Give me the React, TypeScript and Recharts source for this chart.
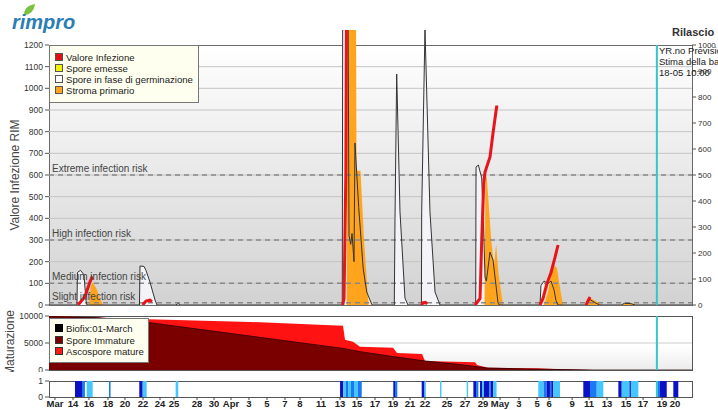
import React from "react";
import {
  ComposedChart,
  Area,
  Line,
  XAxis,
  YAxis,
  CartesianGrid,
  ReferenceLine,
  ReferenceArea,
} from "recharts";

// days counted from Mar 1 (= 0)
const X_MIN = 10.08;
const X_MAX = 82.37;
const NOW = 78.42; // 18-05 10:00

const dateTicks = [10.75, 12.78, 14.57, 16.71, 18.62, 20.65, 22.56, 24.13, 26.72, 28.63, 30.54, 32.56, 34.59, 36.61, 38.3, 40.66, 42.8, 44.71, 46.73, 48.76, 50.67, 52.35, 54.83, 56.85, 58.87, 60.79, 62.92, 64.95, 66.3, 68.89, 70.8, 72.82, 74.96, 76.87, 79.0, 80.46];
const dateLabels = ["Mar", "14", "16", "18", "20", "22", "24", "25", "28", "30", "Apr", "3", "5", "7", "8", "11", "13", "15", "17", "19", "21", "22", "25", "27", "29", "May", "3", "5", "6", "9", "11", "13", "15", "17", "19", "20"];

const leftTicks = [0, 100, 200, 300, 400, 500, 600, 700, 800, 900, 1000, 1100, 1200];
const rightTicks = [0, 100, 200, 300, 400, 500, 600, 700, 800, 900, 1000];
const gridValues = [100, 200, 300, 400, 500, 600, 700, 800, 900, 1000, 1100];

const riskLevels = [10, 100, 300, 600];
const riskLabels = ["Slight infection risk", "Medium infection risk", "High infection risk", "Extreme infection risk"];

// Spore in fase di germinazione
const germination = [
  [10.08, 0],
  [13.22, 0], [13.28, 150], [13.62, 160], [14.01, 140], [14.24, 20], [14.35, 0],
  [20.25, 0], [20.31, 180], [20.76, 178], [20.98, 160], [21.43, 106], [22.0, 23], [22.22, 0],
  [24.3, 0], [24.6, 6], [24.9, 0],
  [43.05, 0], [43.1, 1400], [43.7, 1400], [43.81, 320], [44.0, 280], [44.15, 330], [44.37, 200], [44.48, 748], [44.9, 450], [45.4, 170], [45.8, 60], [46.4, 0],
  [48.9, 0], [48.98, 400], [49.17, 1066], [49.54, 430], [50.1, 32], [50.44, 0],
  [51.95, 0], [51.98, 430], [52.35, 1275], [52.91, 430], [53.48, 60], [54.04, 0],
  [58.05, 0], [58.09, 637], [58.35, 646], [58.73, 586], [58.91, 392], [59.1, 129], [59.25, 110], [59.66, 244], [60.0, 208], [60.56, 10], [60.7, 0],
  [65.28, 0], [65.39, 90], [65.73, 110], [66.18, 100], [66.52, 110], [66.86, 70], [67.08, 20], [67.31, 0],
  [70.5, 0], [70.9, 25], [71.5, 10], [72.0, 0],
  [74.4, 0], [74.8, 8], [75.5, 6], [76.0, 0],
  [82.37, 0],
];

// Spore emesse (light fill under the germination outline)
const emitted = [
  [10.08, 0],
  [43.7, 0], [43.75, 320], [44.0, 280], [44.15, 330], [44.37, 200], [44.48, 748], [44.9, 450], [45.4, 170], [45.8, 60], [46.4, 0],
  [59.0, 0], [59.1, 129], [59.25, 110], [59.66, 244], [60.0, 208], [60.56, 10], [60.7, 0],
  [65.6, 0], [65.73, 110], [66.18, 100], [66.52, 110], [66.86, 70], [67.08, 20], [67.31, 0],
  [82.37, 0],
];

// Stroma primario
const stroma = [
  [10.08, 0],
  [14.57, 0], [14.8, 90], [15.02, 105], [15.47, 70], [15.81, 30], [16.15, 0],
  [43.55, 0], [43.58, 1400], [44.6, 1400], [44.65, 620], [45.1, 620], [45.5, 300], [46.0, 0],
  [59.05, 0], [59.15, 600], [59.3, 590], [59.8, 300], [60.1, 180], [60.35, 280], [60.6, 150], [61.12, 0],
  [65.73, 0], [66.18, 60], [66.52, 140], [66.86, 185], [67.19, 170], [67.53, 80], [67.87, 0],
  [70.57, 0], [70.91, 32], [71.48, 20], [72.26, 0],
  [74.5, 0], [74.9, 10], [75.6, 8], [76.2, 0],
  [82.37, 0],
];

// Valore infezione (null breaks the line)
const infection = [
  [13.34, 0], [14.12, 38], [14.69, 107], [14.88, 125], [15.02, 118], [15.03, null],
  [20.6, 0], [20.98, 18], [21.43, 22], [21.66, 15], [21.67, null],
  [43.1, 0], [43.25, 30], [43.45, 600], [43.53, 1400], [43.54, null],
  [52.0, 0], [52.1, 10], [52.4, 12], [52.6, 5], [52.61, null],
  [57.99, 0], [58.54, 30], [58.73, 300], [58.95, 560], [59.1, 614], [59.66, 683], [60.0, 794], [60.4, 914], [60.58, 914], [60.59, null],
  [65.28, 0], [65.62, 30], [66.07, 100], [66.52, 150], [66.97, 220], [67.31, 277], [67.32, null],
  [70.46, 0], [70.68, 20], [70.91, 37],
];

// Maturazione
const matureTop = [
  [10.08, 10000], [21.21, 9400], [32.68, 8900], [43.13, 8200], [43.36, 5600], [44.26, 5250], [45.05, 4300],
  [48.76, 4130], [49.21, 3150], [52.02, 2960], [52.35, 1670], [57.98, 1420], [58.2, 930], [59.44, 430],
  [64.95, 310], [67.53, 130], [71.24, 0], [82.37, 0],
];
const immature = [
  [10.08, 9900], [15.5, 9700], [21.21, 8800], [43.13, 4000], [45.05, 3400], [48.76, 2480], [52.35, 1670],
  [56.07, 1050], [59.32, 370], [63.82, 180], [71.24, 0], [82.37, 0],
];

// wetness strip: start, end, shade (1 light, 2 mid, 3 dark)
const wetSpells = [
  [13.0, 13.79, 3], [13.79, 14.12, 2], [14.32, 14.99, 1],
  [16.82, 17.0, 2],
  [20.23, 20.61, 3], [20.61, 21.06, 1],
  [24.32, 24.61, 1],
  [42.8, 43.17, 3], [43.17, 43.47, 1], [43.47, 43.7, 2], [43.7, 44.03, 1], [44.03, 44.37, 2], [44.37, 44.82, 1], [44.82, 45.24, 2],
  [48.79, 48.98, 3], [48.98, 49.24, 2],
  [51.98, 52.3, 3], [52.3, 52.45, 1],
  [54.04, 54.2, 1],
  [57.04, 57.2, 1],
  [57.79, 58.09, 3], [58.09, 58.35, 2], [58.54, 58.76, 3], [58.76, 58.98, 1], [58.98, 59.6, 3], [59.6, 59.75, 2], [59.75, 60.03, 3], [60.03, 60.4, 1],
  [65.09, 65.7, 1], [65.7, 66.03, 2], [66.03, 66.4, 3], [66.4, 66.55, 2], [66.55, 66.78, 3], [66.78, 67.53, 1],
  [70.15, 70.9, 3], [70.9, 71.66, 2], [71.66, 72.4, 1],
  [74.09, 74.47, 3], [74.47, 75.35, 1], [75.35, 75.5, 3], [75.5, 76.34, 1],
  [78.5, 78.77, 2], [78.77, 79.53, 3],
  [80.27, 80.83, 3],
];
const shades = ["#ffffff", "#45c6ff", "#1c78f2", "#0a12c6"];

const pts = (rows: any[]) => rows.map(([d, v]) => ({ d, v }));

const FONT = "'Liberation Sans', Arial, sans-serif";
const tickStyle = { fontSize: 8.5, fill: "#333" };
const CYAN = "#33c6cc";

const Square = ({ color, border = "#555" }: { color: string; border?: string }) => (
  <span
    style={{
      display: "inline-block",
      width: 6,
      height: 6,
      background: color,
      border: `1px solid ${border}`,
      marginRight: 3,
    }}
  />
);

const RotLabel = ({ x, y, text }: { x: number; y: number; text: string }) => (
  <div
    style={{
      position: "absolute",
      left: x,
      top: y,
      transform: "translate(-50%, -50%) rotate(-90deg)",
      whiteSpace: "nowrap",
      fontSize: 12,
      color: "#444",
    }}
  >
    {text}
  </div>
);

export default function App() {
  return (
    <div
      style={{
        position: "fixed",
        left: 0,
        top: 0,
        width: 718,
        height: 410,
        overflow: "hidden",
        background: "#fff",
        fontFamily: FONT,
      }}
    >
      {/* panel backgrounds */}
      <div
        style={{
          position: "absolute",
          left: 49,
          top: 45,
          width: 644,
          height: 261,
          boxSizing: "border-box",
          border: "1px solid #6a6a6a",
          background: "linear-gradient(#ffffff, #d2d2d2)",
        }}
      />
      <div
        style={{
          position: "absolute",
          left: 49,
          top: 316,
          width: 644,
          height: 55,
          boxSizing: "border-box",
          border: "1px solid #555",
          background: "linear-gradient(#ffffff 55%, #ececec)",
        }}
      />
      <div
        style={{
          position: "absolute",
          left: 49,
          top: 381,
          width: 644,
          height: 17,
          boxSizing: "border-box",
          border: "1px solid #555",
          background: "#fff",
        }}
      />

      {/* main chart */}
      <div style={{ position: "absolute", left: 0, top: 0 }}>
        <ComposedChart width={718} height={310} margin={{ top: 30, right: 0, bottom: 5, left: 0 }}>
          <CartesianGrid vertical={false} horizontalValues={gridValues} stroke="#c4c4c4" />
          <XAxis dataKey="d" type="number" domain={[X_MIN, X_MAX]} allowDataOverflow hide />
          <YAxis
            width={49}
            domain={[0, 1269.2]}
            allowDataOverflow
            ticks={leftTicks}
            interval={0}
            axisLine={false}
            tickSize={4}
            tickLine={{ stroke: "#555" }}
            tick={tickStyle}
          />
          <YAxis
            yAxisId="right"
            orientation="right"
            width={26}
            domain={[0, 1057.7]}
            allowDataOverflow
            ticks={rightTicks}
            interval={0}
            axisLine={false}
            tickSize={4}
            tickLine={{ stroke: "#555" }}
            tick={{ fontSize: 8, fill: "#333" }}
          />
          {riskLevels.map((lv, i) => (
            <ReferenceLine
              key={lv}
              y={lv}
              stroke="#888"
              strokeWidth={1.5}
              strokeDasharray="5 4"
              label={{ value: riskLabels[i], position: "insideBottomLeft", offset: 3, fontSize: 10, fill: "#444" }}
            />
          ))}
          <Area
            data={pts(germination)}
            dataKey="v"
            type="linear"
            fill="#f3f3f8"
            fillOpacity={1}
            stroke="none"
            isAnimationActive={false}
            dot={false}
            activeDot={false}
          />
          <Area
            data={pts(emitted)}
            dataKey="v"
            type="linear"
            fill="#fbe2c0"
            fillOpacity={1}
            stroke="none"
            isAnimationActive={false}
            dot={false}
            activeDot={false}
          />
          <Area
            data={pts(stroma)}
            dataKey="v"
            type="linear"
            fill="#ffa41c"
            fillOpacity={1}
            stroke="none"
            isAnimationActive={false}
            dot={false}
            activeDot={false}
          />
          <Line
            data={pts(germination)}
            dataKey="v"
            type="linear"
            stroke="#333"
            strokeWidth={1}
            dot={false}
            activeDot={false}
            isAnimationActive={false}
          />
          <Line
            data={pts(infection)}
            dataKey="v"
            type="linear"
            stroke="#e8141b"
            strokeWidth={3}
            dot={false}
            activeDot={false}
            connectNulls={false}
            isAnimationActive={false}
          />
          <ReferenceLine
            segment={[
              { x: NOW, y: 0 },
              { x: NOW, y: 1200 },
            ]}
            stroke={CYAN}
            strokeWidth={2}
          />
        </ComposedChart>
      </div>

      {/* maturazione */}
      <div style={{ position: "absolute", left: 0, top: 310 }}>
        <ComposedChart width={718} height={62} margin={{ top: 6, right: 26, bottom: 2, left: 0 }}>
          <CartesianGrid vertical={false} horizontalValues={[5000]} stroke="#cccccc" />
          <XAxis dataKey="d" type="number" domain={[X_MIN, X_MAX]} allowDataOverflow hide />
          <YAxis
            width={49}
            domain={[0, 10000]}
            allowDataOverflow
            ticks={[0, 5000, 10000]}
            interval={0}
            axisLine={false}
            tickSize={4}
            tickLine={{ stroke: "#555" }}
            tick={tickStyle}
          />
          <Area
            data={pts(matureTop)}
            dataKey="v"
            type="linear"
            fill="#ff1212"
            fillOpacity={1}
            stroke="none"
            isAnimationActive={false}
            dot={false}
            activeDot={false}
          />
          <Area
            data={pts(immature)}
            dataKey="v"
            type="linear"
            fill="#7a0000"
            fillOpacity={1}
            stroke="#2a0000"
            strokeWidth={0.8}
            isAnimationActive={false}
            dot={false}
            activeDot={false}
          />
          <ReferenceLine x={NOW} stroke={CYAN} strokeWidth={2} />
        </ComposedChart>
      </div>

      {/* wetness strip + dates */}
      <div style={{ position: "absolute", left: 0, top: 375 }}>
        <ComposedChart width={718} height={35} margin={{ top: 6, right: 26, bottom: 0, left: 0 }}>
          <XAxis
            dataKey="d"
            type="number"
            domain={[X_MIN, X_MAX]}
            allowDataOverflow
            ticks={dateTicks}
            interval={0}
            height={13}
            axisLine={false}
            tickSize={3}
            tickMargin={0}
            tickLine={{ stroke: "#444" }}
            tickFormatter={(v: number) => dateLabels[dateTicks.indexOf(v)]}
            tick={{ fontSize: 9.5, fontWeight: 700, fill: "#222" }}
          />
          <YAxis
            width={49}
            type="number"
            domain={[0, 1]}
            allowDataOverflow
            ticks={[0, 1]}
            interval={0}
            axisLine={false}
            tickSize={4}
            tickLine={{ stroke: "#555" }}
            tick={tickStyle}
          />
          {wetSpells.map(([a, b, s], i) => (
            <ReferenceArea
              key={i}
              x1={a}
              x2={b}
              y1={0}
              y2={1}
              fill={shades[s]}
              fillOpacity={1}
              stroke="none"
              ifOverflow="extendDomain"
            />
          ))}
          <ReferenceLine x={NOW} stroke={CYAN} strokeWidth={2} ifOverflow="extendDomain" />
        </ComposedChart>
      </div>

      {/* logo */}
      <svg style={{ position: "absolute", left: 22, top: 3 }} width={14} height={14}>
        <path d="M2 12 C2 5 7 2 13 1 C12 8 8 12 2 12 Z" fill="#7cc242" />
      </svg>
      <div
        style={{
          position: "absolute",
          left: 12,
          top: 12,
          fontSize: 20,
          lineHeight: "20px",
          fontWeight: 700,
          fontStyle: "italic",
          color: "#2a7db5",
        }}
      >
        rimpro
      </div>

      <RotLabel x={15} y={175} text="Valore Infezione RIM" />
      <div style={{ position: "absolute", left: 0, top: 300, width: 24, height: 72, overflow: "hidden" }}>
        <RotLabel x={10} y={43} text="Maturazione" />
      </div>

      <div style={{ position: "absolute", left: 672, top: 26, fontSize: 11, fontWeight: 700, color: "#333" }}>
        Rilascio
      </div>
      <div
        style={{
          position: "absolute",
          left: 659,
          top: 45,
          fontSize: 9.5,
          lineHeight: "11px",
          color: "#222",
          whiteSpace: "nowrap",
        }}
      >
        <div>YR.no Previsione</div>
        <div>Stima della bagnatura</div>
        <div>18-05 10:00</div>
      </div>

      {/* legends */}
      <div
        style={{
          position: "absolute",
          left: 49,
          top: 45,
          width: 150,
          height: 58,
          boxSizing: "border-box",
          border: "1px solid #777",
          background: "#fffff0",
          padding: "6px 0 0 5px",
          fontSize: 9.6,
          lineHeight: "11px",
          color: "#222",
        }}
      >
        <div><Square color="#e01010" />Valore Infezione</div>
        <div><Square color="#f4f400" />Spore emesse</div>
        <div><Square color="#ffffff" />Spore in fase di germinazione</div>
        <div><Square color="#ffa41c" />Stroma primario</div>
      </div>
      <div
        style={{
          position: "absolute",
          left: 49,
          top: 318,
          width: 100,
          height: 45,
          boxSizing: "border-box",
          border: "1px solid #777",
          background: "#fffff0",
          padding: "4px 0 0 5px",
          fontSize: 9.6,
          lineHeight: "11.5px",
          color: "#222",
        }}
      >
        <div><Square color="#000000" border="#000" />Biofix:01-March</div>
        <div><Square color="#7a0000" border="#333" />Spore Immature</div>
        <div><Square color="#ff1a1a" border="#333" />Ascospore mature</div>
      </div>
    </div>
  );
}
